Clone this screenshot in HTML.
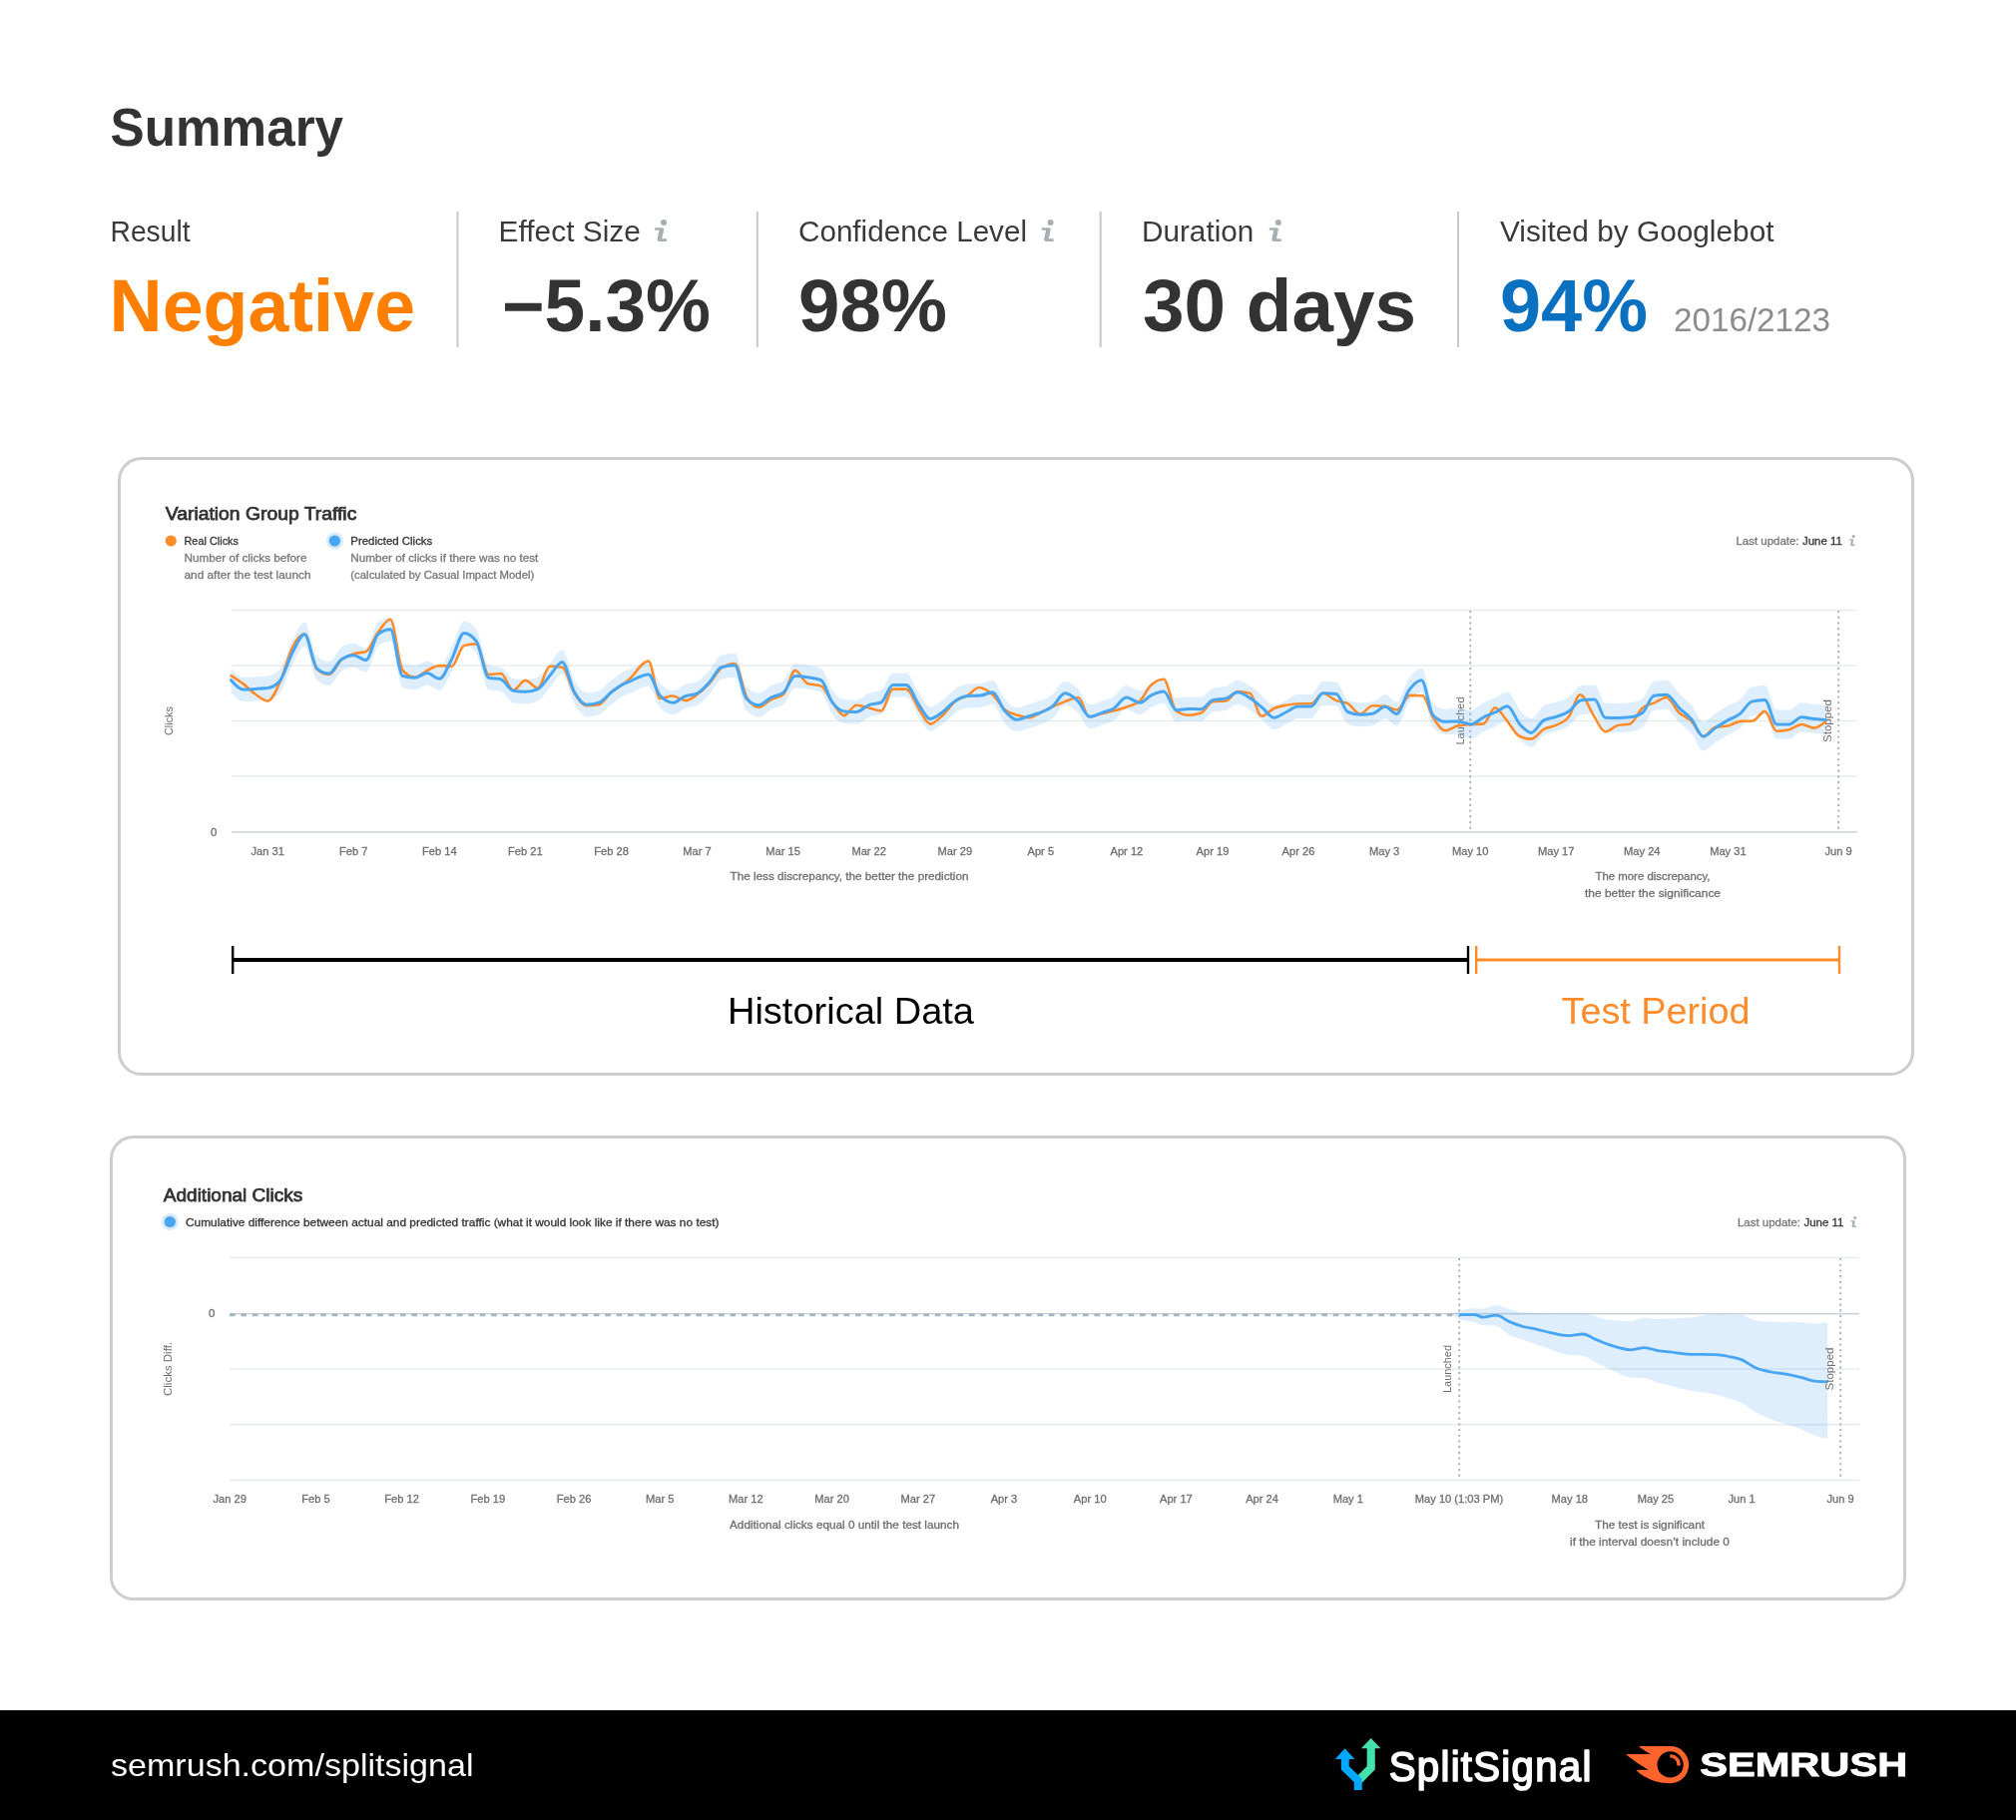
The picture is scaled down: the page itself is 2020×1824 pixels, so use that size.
<!DOCTYPE html>
<html><head><meta charset="utf-8"><title>Summary</title>
<style>html,body{margin:0;padding:0;background:#fff;}body{width:2020px;height:1824px;overflow:hidden;font-family:"Liberation Sans", sans-serif;}svg{display:block;}text{font-family:"Liberation Sans", sans-serif;}</style>
</head><body>
<svg width="2020" height="1824" viewBox="0 0 2020 1824" style="will-change:transform">
<rect width="2020" height="1824" fill="#fff"/>
<text x="110.6" y="146.4" font-size="53.3" fill="#333" font-weight="bold" text-anchor="start" textLength="233.5" lengthAdjust="spacingAndGlyphs" >Summary</text>
<text x="110.5" y="242.1" font-size="29.5" fill="#3a3a3a" font-weight="normal" text-anchor="start" textLength="80" lengthAdjust="spacingAndGlyphs" >Result</text>
<text x="109.6" y="332.3" font-size="73.6" fill="#ff8000" font-weight="bold" text-anchor="start" textLength="306.5" lengthAdjust="spacingAndGlyphs" >Negative</text>
<rect x="457.5" y="212" width="2" height="136" fill="#c8c8c8"/>
<rect x="757.8" y="212" width="2" height="136" fill="#c8c8c8"/>
<rect x="1101.7" y="212" width="2" height="136" fill="#c8c8c8"/>
<rect x="1460" y="212" width="2" height="136" fill="#c8c8c8"/>
<text x="499.6" y="242.1" font-size="29.5" fill="#3a3a3a" font-weight="normal" text-anchor="start" textLength="142.3" lengthAdjust="spacingAndGlyphs" >Effect Size</text>
<g transform="translate(662.05,232.55) scale(1.0000)" fill="#a6b0b3"><circle cx="3" cy="-9.5" r="3.05"/><path d="M-5.94,-4.32 H0.95 Q3.5,-4.32 3.04,-2.13 L1.16,6.64 H5.96 V9.35 H-1.13 Q-3.9,9.35 -3.43,7.06 L-1.55,-1.71 H-5.94 Z"/></g>
<text x="503" y="332.3" font-size="73.6" fill="#333" font-weight="bold" text-anchor="start" textLength="209" lengthAdjust="spacingAndGlyphs" >−5.3%</text>
<text x="800" y="242.1" font-size="29.5" fill="#3a3a3a" font-weight="normal" text-anchor="start" textLength="229" lengthAdjust="spacingAndGlyphs" >Confidence Level</text>
<g transform="translate(1049.6,232.55) scale(1.0000)" fill="#a6b0b3"><circle cx="3" cy="-9.5" r="3.05"/><path d="M-5.94,-4.32 H0.95 Q3.5,-4.32 3.04,-2.13 L1.16,6.64 H5.96 V9.35 H-1.13 Q-3.9,9.35 -3.43,7.06 L-1.55,-1.71 H-5.94 Z"/></g>
<text x="800" y="332.3" font-size="73.6" fill="#333" font-weight="bold" text-anchor="start" textLength="149" lengthAdjust="spacingAndGlyphs" >98%</text>
<text x="1144" y="242.1" font-size="29.5" fill="#3a3a3a" font-weight="normal" text-anchor="start" textLength="112.3" lengthAdjust="spacingAndGlyphs" >Duration</text>
<g transform="translate(1277.8,232.55) scale(1.0000)" fill="#a6b0b3"><circle cx="3" cy="-9.5" r="3.05"/><path d="M-5.94,-4.32 H0.95 Q3.5,-4.32 3.04,-2.13 L1.16,6.64 H5.96 V9.35 H-1.13 Q-3.9,9.35 -3.43,7.06 L-1.55,-1.71 H-5.94 Z"/></g>
<text x="1145" y="332.3" font-size="73.6" fill="#333" font-weight="bold" text-anchor="start" textLength="274" lengthAdjust="spacingAndGlyphs" >30 days</text>
<text x="1503" y="242.1" font-size="29.5" fill="#3a3a3a" font-weight="normal" text-anchor="start" textLength="274.5" lengthAdjust="spacingAndGlyphs" >Visited by Googlebot</text>
<text x="1503" y="332.3" font-size="73.6" fill="#0a70c0" font-weight="bold" text-anchor="start" textLength="148" lengthAdjust="spacingAndGlyphs" >94%</text>
<text x="1677" y="332.3" font-size="33" fill="#8c8c8c" font-weight="normal" text-anchor="start" textLength="157" lengthAdjust="spacingAndGlyphs" >2016/2123</text>
<rect x="119.5" y="459.5" width="1797" height="617" rx="22" ry="22" fill="#fff" stroke="#cdcdcd" stroke-width="3"/>
<text x="165.8" y="520.5" font-size="17.8" fill="#333" font-weight="normal" text-anchor="start" textLength="191.5" lengthAdjust="spacingAndGlyphs" stroke="#333" stroke-width="0.75">Variation Group Traffic</text>
<circle cx="171.2" cy="542" r="5.6" fill="#ff8c2a"/>
<text x="184.5" y="546" font-size="11.5" fill="#333" font-weight="normal" text-anchor="start" textLength="54.5" lengthAdjust="spacingAndGlyphs" stroke="#333" stroke-width="0.3">Real Clicks</text>
<text x="184.5" y="563" font-size="11.5" fill="#777" font-weight="normal" text-anchor="start" textLength="123" lengthAdjust="spacingAndGlyphs" stroke="#777" stroke-width="0.3">Number of clicks before</text>
<text x="184.5" y="580" font-size="11.5" fill="#777" font-weight="normal" text-anchor="start" textLength="127" lengthAdjust="spacingAndGlyphs" stroke="#777" stroke-width="0.3">and after the test launch</text>
<circle cx="335.4" cy="542" r="8.6" fill="#d6eafc"/><circle cx="335.4" cy="542" r="5.6" fill="#47a5f2"/>
<text x="351.3" y="546" font-size="11.5" fill="#333" font-weight="normal" text-anchor="start" textLength="82" lengthAdjust="spacingAndGlyphs" stroke="#333" stroke-width="0.3">Predicted Clicks</text>
<text x="351.3" y="563" font-size="11.5" fill="#777" font-weight="normal" text-anchor="start" textLength="188" lengthAdjust="spacingAndGlyphs" stroke="#777" stroke-width="0.3">Number of clicks if there was no test</text>
<text x="351.3" y="580" font-size="11.5" fill="#777" font-weight="normal" text-anchor="start" textLength="184" lengthAdjust="spacingAndGlyphs" stroke="#777" stroke-width="0.3">(calculated by Casual Impact Model)</text>
<text x="1739.5" y="546" font-size="11.5" fill="#777" font-weight="normal" text-anchor="start" textLength="63" lengthAdjust="spacingAndGlyphs" stroke="#777" stroke-width="0.3">Last update:</text>
<text x="1806" y="546" font-size="11.5" fill="#333" font-weight="normal" text-anchor="start" textLength="40" lengthAdjust="spacingAndGlyphs" stroke="#333" stroke-width="0.3">June 11</text>
<g transform="translate(1855.7,542.3) scale(0.4943)" fill="#a6b0b3"><circle cx="3" cy="-9.5" r="3.05"/><path d="M-5.94,-4.32 H0.95 Q3.5,-4.32 3.04,-2.13 L1.16,6.64 H5.96 V9.35 H-1.13 Q-3.9,9.35 -3.43,7.06 L-1.55,-1.71 H-5.94 Z"/></g>
<rect x="232" y="610.75" width="1629" height="1.5" fill="#e6edef"/>
<rect x="232" y="666.25" width="1629" height="1.5" fill="#e6edef"/>
<rect x="232" y="721.75" width="1629" height="1.5" fill="#e6edef"/>
<rect x="232" y="777.25" width="1629" height="1.5" fill="#e6edef"/>
<rect x="232" y="833" width="1629" height="1.6" fill="#ccd6da"/>
<line x1="1473.2" y1="612" x2="1473.2" y2="833" stroke="#a7b1b5" stroke-width="1.9" stroke-dasharray="2.1,3.6"/>
<line x1="1842.2" y1="612" x2="1842.2" y2="833" stroke="#a7b1b5" stroke-width="1.9" stroke-dasharray="2.1,3.6"/>
<text transform="translate(173.4,722.5) rotate(-90)" font-size="10.5" fill="#6e6e70" text-anchor="middle" textLength="29" lengthAdjust="spacingAndGlyphs">Clicks</text>
<text transform="translate(1466.5,722.5) rotate(-90)" font-size="11.5" fill="#6e6e70" text-anchor="middle" textLength="48" lengthAdjust="spacingAndGlyphs">Launched</text>
<text transform="translate(1835,722.5) rotate(-90)" font-size="11.5" fill="#6e6e70" text-anchor="middle" textLength="43" lengthAdjust="spacingAndGlyphs">Stopped</text>
<path d="M231.5,669.7C235.6,674.4 239.7,679.0 243.8,679.0C247.8,679.0 251.9,678.7 256.0,678.4C260.1,678.2 264.2,678.1 268.3,677.6C272.4,677.0 276.5,675.2 280.6,670.3C284.7,665.4 288.8,649.9 292.9,642.2C297.0,634.4 301.1,623.8 305.2,623.8C309.3,623.8 313.4,654.3 317.5,657.8C321.6,661.3 325.7,663.0 329.8,663.0C333.9,663.0 338.0,651.6 342.1,648.8C346.2,646.1 350.3,644.7 354.4,644.7C358.5,644.7 362.6,649.5 366.7,649.5C370.8,649.5 374.9,626.5 379.0,623.4C383.1,620.4 387.2,618.8 391.2,618.8C395.3,618.8 399.4,664.4 403.5,665.5C407.6,666.6 411.7,667.2 415.8,667.2C419.9,667.2 424.0,662.6 428.1,662.6C432.2,662.6 436.3,668.2 440.4,668.2C444.5,668.2 448.6,656.1 452.7,648.4C456.8,640.8 460.9,622.4 465.0,622.4C469.1,622.4 473.2,625.2 477.3,630.7C481.4,636.3 485.5,666.1 489.6,667.2C493.7,668.3 497.8,667.7 501.9,668.8C506.0,669.9 510.1,679.6 514.2,680.3C518.3,681.0 522.4,681.3 526.5,681.3C530.6,681.3 534.7,680.4 538.8,678.6C542.8,676.8 546.9,669.6 551.0,665.1C555.1,660.6 559.2,651.5 563.3,651.5C567.4,651.5 571.5,674.6 575.6,681.8C579.7,688.9 583.8,694.2 587.9,694.2C592.0,694.2 596.1,693.6 600.2,692.2C604.3,690.8 608.4,684.9 612.5,681.8C616.6,678.6 620.7,675.4 624.8,673.4C626.5,672.6 628.3,672.0 630.0,671.3C636.6,668.7 643.2,664.0 649.8,664.0C653.6,664.0 657.4,680.8 661.2,684.9C665.8,689.7 670.3,692.2 674.8,692.2C678.6,692.2 682.4,687.5 686.2,685.9C690.4,684.2 694.6,684.9 698.8,682.8C702.9,680.7 707.1,675.9 711.2,671.3C715.1,667.1 718.9,657.9 722.7,656.8C727.2,655.4 731.7,654.7 736.2,654.7C740.1,654.7 743.9,683.9 747.7,688.0C751.9,692.4 756.0,694.7 760.2,694.7C764.4,694.7 768.5,689.1 772.7,687.0C776.9,684.8 781.0,685.2 785.2,681.8C789.0,678.6 792.8,665.5 796.7,665.5C800.8,665.5 805.0,666.1 809.2,666.8C813.7,667.5 818.2,667.7 822.7,669.7C826.5,671.3 830.3,687.0 834.2,692.2C838.0,697.4 841.8,700.5 845.6,700.9C849.8,701.3 854.0,701.5 858.1,701.5C862.3,701.5 866.5,696.3 870.6,694.7C874.8,693.0 879.0,693.7 883.1,691.8C886.9,690.0 890.8,674.5 894.6,674.5C899.1,674.5 903.6,674.5 908.1,674.5C912.3,674.5 916.5,688.4 920.6,694.2C924.4,699.6 928.3,708.4 932.1,708.4C936.2,708.4 940.4,704.5 944.6,701.5C948.8,698.6 952.9,693.2 957.1,690.5C961.2,687.8 965.4,685.8 969.6,685.5C973.8,685.2 977.9,685.4 982.1,685.1C986.2,684.8 990.4,681.8 994.6,681.8C998.4,681.8 1002.2,694.9 1006.0,699.5C1010.2,704.4 1014.4,709.2 1018.5,709.2C1022.7,709.2 1026.9,706.9 1031.0,705.7C1034.0,704.8 1037.0,704.1 1040.0,703.0C1044.9,701.2 1049.7,699.8 1054.6,695.9C1058.8,692.6 1062.9,682.8 1067.1,682.8C1071.2,682.8 1075.4,686.2 1079.6,690.1C1083.8,694.0 1087.9,706.3 1092.1,706.3C1096.2,706.3 1100.4,703.6 1104.6,702.2C1108.4,700.8 1112.2,700.3 1116.0,698.0C1120.2,695.4 1124.4,687.0 1128.5,687.0C1133.1,687.0 1137.6,692.2 1142.1,692.2C1145.9,692.2 1149.7,686.7 1153.5,684.9C1157.7,682.9 1161.9,681.1 1166.0,681.1C1170.2,681.1 1174.4,699.5 1178.5,699.5C1182.7,699.5 1186.9,698.4 1191.0,698.4C1195.2,698.4 1199.4,698.8 1203.5,698.8C1207.4,698.8 1211.2,690.6 1215.0,689.7C1219.5,688.6 1224.0,689.1 1228.5,688.0C1232.4,687.1 1236.2,681.8 1240.0,681.8C1244.2,681.8 1248.3,685.0 1252.5,687.6C1256.7,690.2 1260.8,694.0 1265.0,697.4C1268.8,700.5 1272.6,707.2 1276.5,707.2C1280.6,707.2 1284.8,703.5 1289.0,701.5C1292.8,699.7 1296.6,695.9 1300.4,695.9C1304.9,695.9 1309.4,695.9 1314.0,695.9C1317.8,695.9 1321.6,682.8 1325.4,682.8C1329.9,682.8 1334.4,683.0 1339.0,683.4C1342.8,683.8 1346.6,699.9 1350.4,701.5C1354.6,703.3 1358.8,704.2 1362.9,704.2C1367.1,704.2 1371.2,703.9 1375.4,703.2C1379.6,702.5 1383.8,696.3 1387.9,696.3C1391.7,696.3 1395.6,703.6 1399.4,703.6C1403.5,703.6 1407.7,685.3 1411.9,679.7C1416.0,674.0 1420.2,669.7 1424.4,669.7C1428.2,669.7 1432.0,700.9 1435.8,704.7C1440.0,708.8 1444.2,710.8 1448.3,710.8C1452.4,710.8 1456.4,709.6 1460.4,709.6C1464.9,709.6 1469.4,711.9 1474.0,711.9C1478.1,711.9 1482.3,706.4 1486.5,704.2C1490.6,702.1 1494.8,701.0 1499.0,699.0C1502.8,697.3 1506.6,693.2 1510.4,693.2C1514.6,693.2 1518.8,707.0 1522.9,711.5C1526.7,715.7 1530.6,719.9 1534.4,719.9C1538.5,719.9 1542.7,709.7 1546.9,707.4C1551.0,705.0 1555.2,705.3 1559.4,703.8C1563.5,702.4 1567.7,701.4 1571.9,698.6C1576.0,695.8 1580.2,687.6 1584.4,687.2C1588.9,686.8 1593.4,686.5 1597.9,686.5C1601.4,686.5 1604.9,704.6 1608.3,704.7C1612.5,704.8 1616.7,704.9 1620.8,704.9C1625.0,704.9 1629.2,704.7 1633.3,704.2C1637.5,703.8 1641.7,702.7 1645.8,699.7C1649.7,696.9 1653.5,683.4 1657.3,682.8C1661.5,682.1 1665.6,681.8 1669.8,681.8C1674.0,681.8 1678.1,690.8 1682.3,694.9C1686.5,699.0 1690.6,701.4 1694.8,706.3C1698.8,711.1 1702.7,723.6 1706.7,723.6C1710.7,723.6 1714.7,717.8 1718.8,715.1C1722.9,712.3 1727.1,709.8 1731.2,707.4C1735.4,705.0 1739.6,704.1 1743.8,700.7C1747.6,697.6 1751.4,689.6 1755.2,688.6C1759.6,687.5 1764.0,687.0 1768.3,687.0C1772.3,687.0 1776.3,711.5 1780.2,711.5C1784.4,711.5 1788.5,711.5 1792.7,711.5C1796.9,711.5 1801.0,704.2 1805.2,704.2C1809.4,704.2 1813.5,705.5 1817.7,705.9C1821.5,706.3 1825.3,706.6 1829.2,707.0L1829.2,736.0C1825.3,735.6 1821.5,735.3 1817.7,734.9C1813.5,734.5 1809.4,733.2 1805.2,733.2C1801.0,733.2 1796.9,740.5 1792.7,740.5C1788.5,740.5 1784.4,740.5 1780.2,740.5C1776.3,740.5 1772.3,716.0 1768.3,716.0C1764.0,716.0 1759.6,716.5 1755.2,717.6C1751.4,718.6 1747.6,726.6 1743.8,729.7C1739.6,733.1 1735.4,734.0 1731.2,736.4C1727.1,738.8 1722.9,741.3 1718.8,744.1C1714.7,746.8 1710.7,752.6 1706.7,752.6C1702.7,752.6 1698.8,740.1 1694.8,735.3C1690.6,730.4 1686.5,728.0 1682.3,723.9C1678.1,719.8 1674.0,710.8 1669.8,710.8C1665.6,710.8 1661.5,711.1 1657.3,711.8C1653.5,712.4 1649.7,725.9 1645.8,728.7C1641.7,731.7 1637.5,732.8 1633.3,733.2C1629.2,733.7 1625.0,733.9 1620.8,733.9C1616.7,733.9 1612.5,733.8 1608.3,733.7C1604.9,733.6 1601.4,715.5 1597.9,715.5C1593.4,715.5 1588.9,715.8 1584.4,716.2C1580.2,716.6 1576.0,724.8 1571.9,727.6C1567.7,730.4 1563.5,731.4 1559.4,732.8C1555.2,734.3 1551.0,734.0 1546.9,736.4C1542.7,738.7 1538.5,748.9 1534.4,748.9C1530.6,748.9 1526.7,744.7 1522.9,740.5C1518.8,736.0 1514.6,722.2 1510.4,722.2C1506.6,722.2 1502.8,726.3 1499.0,728.0C1494.8,730.0 1490.6,731.2 1486.5,733.2C1482.3,735.3 1478.1,740.2 1474.0,740.2C1469.4,740.2 1464.9,736.4 1460.4,736.2C1456.4,736.0 1452.4,736.1 1448.3,735.9C1444.2,735.6 1440.0,733.5 1435.8,728.7C1432.0,724.3 1428.2,693.7 1424.4,693.7C1420.2,693.7 1416.0,698.0 1411.9,703.7C1407.7,709.3 1403.5,727.6 1399.4,727.6C1395.6,727.6 1391.7,720.3 1387.9,720.3C1383.8,720.3 1379.6,726.5 1375.4,727.2C1371.2,727.9 1367.1,728.2 1362.9,728.2C1358.8,728.2 1354.6,727.3 1350.4,725.5C1346.6,723.9 1342.8,707.8 1339.0,707.4C1334.4,707.0 1329.9,706.8 1325.4,706.8C1321.6,706.8 1317.8,719.9 1314.0,719.9C1309.4,719.9 1304.9,719.9 1300.4,719.9C1296.6,719.9 1292.8,723.7 1289.0,725.5C1284.8,727.5 1280.6,731.2 1276.5,731.2C1272.6,731.2 1268.8,724.5 1265.0,721.4C1260.8,718.0 1256.7,714.2 1252.5,711.6C1248.3,709.0 1244.2,705.8 1240.0,705.8C1236.2,705.8 1232.4,711.1 1228.5,712.0C1224.0,713.1 1219.5,712.6 1215.0,713.7C1211.2,714.6 1207.4,722.8 1203.5,722.8C1199.4,722.8 1195.2,722.4 1191.0,722.4C1186.9,722.4 1182.7,723.5 1178.5,723.5C1174.4,723.5 1170.2,705.1 1166.0,705.1C1161.9,705.1 1157.7,706.9 1153.5,708.9C1149.7,710.7 1145.9,716.2 1142.1,716.2C1137.6,716.2 1133.1,711.0 1128.5,711.0C1124.4,711.0 1120.2,719.4 1116.0,722.0C1112.2,724.3 1108.4,724.8 1104.6,726.2C1100.4,727.6 1096.2,730.3 1092.1,730.3C1087.9,730.3 1083.8,718.0 1079.6,714.1C1075.4,710.2 1071.2,706.8 1067.1,706.8C1062.9,706.8 1058.8,716.6 1054.6,719.9C1049.7,723.8 1044.9,725.2 1040.0,727.0C1037.0,728.1 1034.0,728.8 1031.0,729.7C1026.9,730.9 1022.7,733.2 1018.5,733.2C1014.4,733.2 1010.2,728.4 1006.0,723.5C1002.2,718.9 998.4,705.8 994.6,705.8C990.4,705.8 986.2,708.8 982.1,709.1C977.9,709.4 973.8,709.2 969.6,709.5C965.4,709.8 961.2,711.8 957.1,714.5C952.9,717.2 948.8,722.6 944.6,725.5C940.4,728.5 936.2,732.4 932.1,732.4C928.3,732.4 924.4,723.6 920.6,718.2C916.5,712.4 912.3,698.5 908.1,698.5C903.6,698.5 899.1,698.5 894.6,698.5C890.8,698.5 886.9,714.0 883.1,715.8C879.0,717.7 874.8,717.0 870.6,718.7C866.5,720.3 862.3,725.5 858.1,725.5C854.0,725.5 849.8,725.3 845.6,724.9C841.8,724.5 838.0,721.4 834.2,716.2C830.3,711.0 826.5,695.3 822.7,693.7C818.2,691.7 813.7,691.5 809.2,690.8C805.0,690.1 800.8,689.5 796.7,689.5C792.8,689.5 789.0,702.6 785.2,705.8C781.0,709.2 776.9,708.8 772.7,711.0C768.5,713.1 764.4,718.7 760.2,718.7C756.0,718.7 751.9,716.4 747.7,712.0C743.9,707.9 740.1,678.7 736.2,678.7C731.7,678.7 727.2,679.4 722.7,680.8C718.9,681.9 715.1,691.1 711.2,695.3C707.1,699.9 702.9,704.7 698.8,706.8C694.6,708.9 690.4,708.2 686.2,709.9C682.4,711.5 678.6,716.2 674.8,716.2C670.3,716.2 665.8,713.7 661.2,708.9C657.4,704.8 653.6,688.0 649.8,688.0C643.2,688.0 636.6,692.7 630.0,695.3C628.3,696.0 626.5,696.6 624.8,697.4C620.7,699.4 616.6,702.6 612.5,705.8C608.4,708.9 604.3,714.8 600.2,716.2C596.1,717.6 592.0,718.2 587.9,718.2C583.8,718.2 579.7,712.9 575.6,705.8C571.5,698.6 567.4,675.5 563.3,675.5C559.2,675.5 555.1,684.6 551.0,689.1C546.9,693.6 542.8,700.8 538.8,702.6C534.7,704.4 530.6,705.3 526.5,705.3C522.4,705.3 518.3,705.0 514.2,704.3C510.1,703.6 506.0,693.9 501.9,692.8C497.8,691.7 493.7,692.3 489.6,691.2C485.5,690.1 481.4,660.3 477.3,654.7C473.2,649.2 469.1,646.4 465.0,646.4C460.9,646.4 456.8,664.8 452.7,672.4C448.6,680.1 444.5,692.2 440.4,692.2C436.3,692.2 432.2,686.6 428.1,686.6C424.0,686.6 419.9,691.2 415.8,691.2C411.7,691.2 407.6,690.6 403.5,689.5C399.4,688.4 395.3,642.8 391.2,642.8C387.2,642.8 383.1,644.4 379.0,647.4C374.9,650.5 370.8,673.5 366.7,673.5C362.6,673.5 358.5,668.7 354.4,668.7C350.3,668.7 346.2,670.1 342.1,672.8C338.0,675.6 333.9,687.0 329.8,687.0C325.7,687.0 321.6,685.3 317.5,681.8C313.4,678.3 309.3,647.8 305.2,647.8C301.1,647.8 297.0,658.4 292.9,666.2C288.8,673.9 284.7,689.4 280.6,694.3C276.5,699.2 272.4,701.0 268.3,701.6C264.2,702.1 260.1,702.2 256.0,702.4C251.9,702.7 247.8,703.0 243.8,703.0C239.7,703.0 235.6,698.4 231.5,693.7Z" fill="#4aa3f0" fill-opacity="0.185"/>
<path d="M231.5,677.1C235.6,679.7 239.7,682.3 243.8,685.4C247.8,688.5 251.9,693.0 256.0,695.8C260.1,698.7 264.2,702.5 268.3,702.5C272.4,702.5 276.5,692.3 280.6,683.3C284.7,674.4 288.8,656.9 292.9,649.0C297.0,641.0 301.1,635.4 305.2,635.4C309.3,635.4 313.4,667.4 317.5,670.8C321.6,674.3 325.7,676.0 329.8,676.0C333.9,676.0 338.0,664.9 342.1,661.5C346.2,658.0 350.3,656.6 354.4,655.2C358.5,653.8 362.6,654.5 366.7,653.1C370.8,651.7 374.9,638.7 379.0,633.3C383.1,628.0 387.2,620.8 391.2,620.8C395.3,620.8 399.4,667.3 403.5,671.9C407.6,676.5 411.7,678.8 415.8,678.8C419.9,678.8 424.0,673.8 428.1,671.9C432.2,669.9 436.3,667.1 440.4,667.1C444.5,667.1 448.6,667.7 452.7,667.7C456.8,667.7 460.9,647.8 465.0,646.9C469.1,645.9 473.2,645.4 477.3,645.4C481.4,645.4 485.5,676.0 489.6,676.0C493.7,676.0 497.8,675.0 501.9,675.0C506.0,675.0 510.1,691.7 514.2,691.7C518.3,691.7 522.4,681.9 526.5,681.9C530.6,681.9 534.7,689.6 538.8,689.6C542.8,689.6 546.9,667.7 551.0,667.7C555.1,667.7 559.2,668.1 563.3,668.8C567.4,669.4 571.5,688.4 575.6,694.8C579.7,701.2 583.8,707.3 587.9,707.3C592.0,707.3 596.1,706.9 600.2,706.2C604.3,705.6 608.4,697.2 612.5,693.8C616.6,690.3 620.7,688.5 624.8,685.4C626.5,684.1 628.3,682.7 630.0,681.2C636.6,675.8 643.2,662.5 649.8,662.5C653.6,662.5 657.4,700.0 661.2,700.0C665.4,700.0 669.6,697.5 673.8,697.5C678.3,697.5 682.8,702.1 687.3,702.1C691.1,702.1 694.9,698.6 698.8,695.8C702.9,692.8 707.1,689.0 711.2,684.4C715.1,680.2 718.9,672.5 722.7,669.8C727.2,666.6 731.7,665.0 736.2,665.0C740.4,665.0 744.6,693.6 748.8,700.0C752.6,705.8 756.4,708.8 760.2,708.8C764.4,708.8 768.5,703.2 772.7,701.0C776.9,698.9 781.0,699.3 785.2,695.8C789.0,692.7 792.8,671.9 796.7,671.9C800.8,671.9 805.0,683.5 809.2,685.0C813.7,686.7 818.2,685.8 822.7,687.5C826.5,688.9 830.3,699.2 834.2,704.2C838.0,709.1 841.8,717.1 845.6,717.1C849.8,717.1 854.0,706.7 858.1,706.7C862.3,706.7 866.5,708.4 870.6,709.4C874.8,710.3 879.0,712.5 883.1,712.5C886.9,712.5 890.8,690.6 894.6,690.6C899.1,690.6 903.6,690.6 908.1,690.6C912.3,690.6 916.5,704.4 920.6,710.4C924.4,716.0 928.3,725.6 932.1,725.6C936.2,725.6 940.4,720.4 944.6,716.7C948.8,712.9 952.9,706.4 957.1,703.1C961.2,699.8 965.4,699.4 969.6,696.9C973.4,694.6 977.2,689.0 981.0,689.0C985.6,689.0 990.1,692.2 994.6,696.2C998.8,700.0 1002.9,708.1 1007.1,711.5C1011.2,714.9 1015.4,715.4 1019.6,716.7C1023.8,718.0 1027.9,719.2 1032.1,719.2C1034.7,719.2 1037.4,716.9 1040.0,715.6C1044.9,713.4 1049.7,710.5 1054.6,708.3C1058.8,706.4 1062.9,704.6 1067.1,703.1C1071.6,701.5 1076.1,699.0 1080.6,699.0C1084.1,699.0 1087.6,718.3 1091.0,718.3C1095.6,718.3 1100.1,716.1 1104.6,715.0C1108.8,714.0 1112.9,713.2 1117.1,712.1C1121.2,711.0 1125.4,709.9 1129.6,708.3C1133.8,706.7 1137.9,706.4 1142.1,702.5C1145.9,698.9 1149.7,689.9 1153.5,686.5C1157.7,682.7 1161.9,680.8 1166.0,680.8C1170.2,680.8 1174.4,709.7 1178.5,712.5C1182.7,715.3 1186.9,716.7 1191.0,716.7C1195.2,716.7 1199.4,716.0 1203.5,714.6C1207.4,713.3 1211.2,703.5 1215.0,703.1C1219.5,702.7 1224.0,702.9 1228.5,702.5C1232.4,702.1 1236.2,693.1 1240.0,693.1C1244.2,693.1 1248.3,693.7 1252.5,694.8C1256.3,695.8 1260.1,717.7 1264.0,717.7C1268.1,717.7 1272.3,711.8 1276.5,710.0C1280.6,708.2 1284.8,707.5 1289.0,706.7C1293.1,705.9 1297.3,705.2 1301.5,705.2C1305.6,705.2 1309.8,705.2 1314.0,705.2C1317.8,705.2 1321.6,694.8 1325.4,694.8C1329.9,694.8 1334.4,700.3 1339.0,702.1C1342.8,703.6 1346.6,703.1 1350.4,705.2C1354.6,707.5 1358.8,715.6 1362.9,715.6C1367.1,715.6 1371.2,707.3 1375.4,707.3C1379.6,707.3 1383.8,707.5 1387.9,707.9C1391.7,708.3 1395.6,711.5 1399.4,711.5C1403.9,711.5 1408.4,696.9 1412.9,696.9C1417.1,696.9 1421.2,697.0 1425.4,697.3C1428.9,697.5 1432.4,713.1 1435.8,718.8C1440.0,725.5 1444.2,732.3 1448.3,732.3C1452.7,732.3 1457.1,727.8 1461.5,727.1C1465.6,726.4 1469.8,726.3 1474.0,726.0C1478.1,725.8 1482.3,725.8 1486.5,725.4C1490.3,725.0 1494.1,709.4 1497.9,709.4C1502.1,709.4 1506.2,718.0 1510.4,722.9C1514.2,727.4 1518.1,735.6 1521.9,737.5C1526.0,739.6 1530.2,740.6 1534.4,740.6C1538.5,740.6 1542.7,733.2 1546.9,730.8C1551.0,728.5 1555.2,728.8 1559.4,726.7C1563.5,724.6 1567.7,723.9 1571.9,718.3C1575.7,713.3 1579.5,696.2 1583.3,696.2C1587.8,696.2 1592.4,710.4 1596.9,717.1C1600.7,722.7 1604.5,733.3 1608.3,733.3C1612.5,733.3 1616.7,728.2 1620.8,727.1C1625.0,726.0 1629.2,726.5 1633.3,725.4C1637.5,724.3 1641.7,712.8 1645.8,709.4C1649.7,706.2 1653.5,706.2 1657.3,704.6C1661.5,702.8 1665.6,699.0 1669.8,699.0C1674.0,699.0 1678.1,710.2 1682.3,714.2C1686.5,718.2 1690.6,718.8 1694.8,722.9C1698.8,726.9 1702.7,738.1 1706.7,738.1C1710.7,738.1 1714.7,729.6 1718.8,728.8C1722.9,727.9 1727.1,728.3 1731.2,727.5C1735.4,726.7 1739.6,723.2 1743.8,722.9C1747.9,722.6 1752.1,722.8 1756.2,722.5C1760.3,722.2 1764.3,712.9 1768.3,712.9C1772.3,712.9 1776.3,732.7 1780.2,732.7C1784.4,732.7 1788.5,732.2 1792.7,731.2C1796.9,730.3 1801.0,726.0 1805.2,726.0C1809.4,726.0 1813.5,729.6 1817.7,729.6C1821.5,729.6 1825.3,726.5 1829.2,723.3" fill="none" stroke="#ff8c2a" stroke-width="2.6" stroke-linejoin="round" stroke-linecap="round"/>
<path d="M231.5,681.7C235.6,686.4 239.7,691.0 243.8,691.0C247.8,691.0 251.9,690.7 256.0,690.4C260.1,690.2 264.2,690.1 268.3,689.6C272.4,689.0 276.5,687.2 280.6,682.3C284.7,677.4 288.8,661.9 292.9,654.2C297.0,646.4 301.1,635.8 305.2,635.8C309.3,635.8 313.4,666.3 317.5,669.8C321.6,673.3 325.7,675.0 329.8,675.0C333.9,675.0 338.0,663.6 342.1,660.8C346.2,658.1 350.3,656.7 354.4,656.7C358.5,656.7 362.6,661.5 366.7,661.5C370.8,661.5 374.9,638.5 379.0,635.4C383.1,632.4 387.2,630.8 391.2,630.8C395.3,630.8 399.4,676.4 403.5,677.5C407.6,678.6 411.7,679.2 415.8,679.2C419.9,679.2 424.0,674.6 428.1,674.6C432.2,674.6 436.3,680.2 440.4,680.2C444.5,680.2 448.6,668.1 452.7,660.4C456.8,652.8 460.9,634.4 465.0,634.4C469.1,634.4 473.2,637.2 477.3,642.7C481.4,648.3 485.5,678.1 489.6,679.2C493.7,680.3 497.8,679.7 501.9,680.8C506.0,681.9 510.1,691.6 514.2,692.3C518.3,693.0 522.4,693.3 526.5,693.3C530.6,693.3 534.7,692.4 538.8,690.6C542.8,688.8 546.9,681.6 551.0,677.1C555.1,672.6 559.2,663.5 563.3,663.5C567.4,663.5 571.5,686.6 575.6,693.8C579.7,700.9 583.8,706.2 587.9,706.2C592.0,706.2 596.1,705.6 600.2,704.2C604.3,702.8 608.4,696.9 612.5,693.8C616.6,690.6 620.7,687.4 624.8,685.4C626.5,684.6 628.3,684.0 630.0,683.3C636.6,680.7 643.2,676.0 649.8,676.0C653.6,676.0 657.4,692.8 661.2,696.9C665.8,701.7 670.3,704.2 674.8,704.2C678.6,704.2 682.4,699.5 686.2,697.9C690.4,696.2 694.6,696.9 698.8,694.8C702.9,692.7 707.1,687.9 711.2,683.3C715.1,679.1 718.9,669.9 722.7,668.8C727.2,667.4 731.7,666.7 736.2,666.7C740.1,666.7 743.9,695.9 747.7,700.0C751.9,704.4 756.0,706.7 760.2,706.7C764.4,706.7 768.5,701.1 772.7,699.0C776.9,696.8 781.0,697.2 785.2,693.8C789.0,690.6 792.8,677.5 796.7,677.5C800.8,677.5 805.0,678.1 809.2,678.8C813.7,679.5 818.2,679.7 822.7,681.7C826.5,683.3 830.3,699.0 834.2,704.2C838.0,709.4 841.8,712.5 845.6,712.9C849.8,713.3 854.0,713.5 858.1,713.5C862.3,713.5 866.5,708.3 870.6,706.7C874.8,705.0 879.0,705.7 883.1,703.8C886.9,702.0 890.8,686.5 894.6,686.5C899.1,686.5 903.6,686.5 908.1,686.5C912.3,686.5 916.5,700.4 920.6,706.2C924.4,711.6 928.3,720.4 932.1,720.4C936.2,720.4 940.4,716.5 944.6,713.5C948.8,710.6 952.9,705.2 957.1,702.5C961.2,699.8 965.4,697.8 969.6,697.5C973.8,697.2 977.9,697.4 982.1,697.1C986.2,696.8 990.4,693.8 994.6,693.8C998.4,693.8 1002.2,706.9 1006.0,711.5C1010.2,716.4 1014.4,721.2 1018.5,721.2C1022.7,721.2 1026.9,718.9 1031.0,717.7C1034.0,716.8 1037.0,716.1 1040.0,715.0C1044.9,713.2 1049.7,711.8 1054.6,707.9C1058.8,704.6 1062.9,694.8 1067.1,694.8C1071.2,694.8 1075.4,698.2 1079.6,702.1C1083.8,706.0 1087.9,718.3 1092.1,718.3C1096.2,718.3 1100.4,715.6 1104.6,714.2C1108.4,712.8 1112.2,712.3 1116.0,710.0C1120.2,707.4 1124.4,699.0 1128.5,699.0C1133.1,699.0 1137.6,704.2 1142.1,704.2C1145.9,704.2 1149.7,698.7 1153.5,696.9C1157.7,694.9 1161.9,693.1 1166.0,693.1C1170.2,693.1 1174.4,711.5 1178.5,711.5C1182.7,711.5 1186.9,710.4 1191.0,710.4C1195.2,710.4 1199.4,710.8 1203.5,710.8C1207.4,710.8 1211.2,702.6 1215.0,701.7C1219.5,700.6 1224.0,701.1 1228.5,700.0C1232.4,699.1 1236.2,693.8 1240.0,693.8C1244.2,693.8 1248.3,697.0 1252.5,699.6C1256.7,702.2 1260.8,706.0 1265.0,709.4C1268.8,712.5 1272.6,719.2 1276.5,719.2C1280.6,719.2 1284.8,715.5 1289.0,713.5C1292.8,711.7 1296.6,707.9 1300.4,707.9C1304.9,707.9 1309.4,707.9 1314.0,707.9C1317.8,707.9 1321.6,694.8 1325.4,694.8C1329.9,694.8 1334.4,695.0 1339.0,695.4C1342.8,695.8 1346.6,711.9 1350.4,713.5C1354.6,715.3 1358.8,716.2 1362.9,716.2C1367.1,716.2 1371.2,715.9 1375.4,715.2C1379.6,714.5 1383.8,708.3 1387.9,708.3C1391.7,708.3 1395.6,715.6 1399.4,715.6C1403.5,715.6 1407.7,697.3 1411.9,691.7C1416.0,686.0 1420.2,681.7 1424.4,681.7C1428.2,681.7 1432.0,712.6 1435.8,716.7C1440.0,721.1 1444.2,723.3 1448.3,723.3C1452.4,723.3 1456.4,722.9 1460.4,722.9C1464.9,722.9 1469.4,726.0 1474.0,726.0C1478.1,726.0 1482.3,720.8 1486.5,718.8C1490.6,716.7 1494.8,715.5 1499.0,713.5C1502.8,711.8 1506.6,707.7 1510.4,707.7C1514.6,707.7 1518.8,721.5 1522.9,726.0C1526.7,730.2 1530.6,734.4 1534.4,734.4C1538.5,734.4 1542.7,724.2 1546.9,721.9C1551.0,719.5 1555.2,719.8 1559.4,718.3C1563.5,716.9 1567.7,715.9 1571.9,713.1C1576.0,710.3 1580.2,702.1 1584.4,701.7C1588.9,701.2 1593.4,701.0 1597.9,701.0C1601.4,701.0 1604.9,719.1 1608.3,719.2C1612.5,719.3 1616.7,719.4 1620.8,719.4C1625.0,719.4 1629.2,719.2 1633.3,718.8C1637.5,718.3 1641.7,717.2 1645.8,714.2C1649.7,711.4 1653.5,697.9 1657.3,697.3C1661.5,696.6 1665.6,696.2 1669.8,696.2C1674.0,696.2 1678.1,705.3 1682.3,709.4C1686.5,713.5 1690.6,715.9 1694.8,720.8C1698.8,725.6 1702.7,738.1 1706.7,738.1C1710.7,738.1 1714.7,732.3 1718.8,729.6C1722.9,726.8 1727.1,724.3 1731.2,721.9C1735.4,719.5 1739.6,718.6 1743.8,715.2C1747.6,712.1 1751.4,704.1 1755.2,703.1C1759.6,702.0 1764.0,701.5 1768.3,701.5C1772.3,701.5 1776.3,726.0 1780.2,726.0C1784.4,726.0 1788.5,726.0 1792.7,726.0C1796.9,726.0 1801.0,718.8 1805.2,718.8C1809.4,718.8 1813.5,720.0 1817.7,720.4C1821.5,720.8 1825.3,721.1 1829.2,721.5" fill="none" stroke="#47a5f2" stroke-width="3" stroke-linejoin="round" stroke-linecap="round"/>
<text x="214.3" y="837.5" font-size="11.5" fill="#6e6e70" font-weight="normal" text-anchor="middle" stroke="#6e6e70" stroke-width="0.3">0</text>
<text x="268.2" y="856.5" font-size="11.5" fill="#6e6e70" font-weight="normal" text-anchor="middle" textLength="33.4" lengthAdjust="spacingAndGlyphs" stroke="#6e6e70" stroke-width="0.3">Jan 31</text>
<text x="354.3" y="856.5" font-size="11.5" fill="#6e6e70" font-weight="normal" text-anchor="middle" textLength="28.5" lengthAdjust="spacingAndGlyphs" stroke="#6e6e70" stroke-width="0.3">Feb 7</text>
<text x="440.3" y="856.5" font-size="11.5" fill="#6e6e70" font-weight="normal" text-anchor="middle" textLength="34.7" lengthAdjust="spacingAndGlyphs" stroke="#6e6e70" stroke-width="0.3">Feb 14</text>
<text x="526.4" y="856.5" font-size="11.5" fill="#6e6e70" font-weight="normal" text-anchor="middle" textLength="34.7" lengthAdjust="spacingAndGlyphs" stroke="#6e6e70" stroke-width="0.3">Feb 21</text>
<text x="612.5" y="856.5" font-size="11.5" fill="#6e6e70" font-weight="normal" text-anchor="middle" textLength="34.7" lengthAdjust="spacingAndGlyphs" stroke="#6e6e70" stroke-width="0.3">Feb 28</text>
<text x="698.5" y="856.5" font-size="11.5" fill="#6e6e70" font-weight="normal" text-anchor="middle" textLength="28.5" lengthAdjust="spacingAndGlyphs" stroke="#6e6e70" stroke-width="0.3">Mar 7</text>
<text x="784.6" y="856.5" font-size="11.5" fill="#6e6e70" font-weight="normal" text-anchor="middle" textLength="34.6" lengthAdjust="spacingAndGlyphs" stroke="#6e6e70" stroke-width="0.3">Mar 15</text>
<text x="870.7" y="856.5" font-size="11.5" fill="#6e6e70" font-weight="normal" text-anchor="middle" textLength="34.6" lengthAdjust="spacingAndGlyphs" stroke="#6e6e70" stroke-width="0.3">Mar 22</text>
<text x="956.8" y="856.5" font-size="11.5" fill="#6e6e70" font-weight="normal" text-anchor="middle" textLength="34.6" lengthAdjust="spacingAndGlyphs" stroke="#6e6e70" stroke-width="0.3">Mar 29</text>
<text x="1042.8" y="856.5" font-size="11.5" fill="#6e6e70" font-weight="normal" text-anchor="middle" textLength="26.6" lengthAdjust="spacingAndGlyphs" stroke="#6e6e70" stroke-width="0.3">Apr 5</text>
<text x="1128.9" y="856.5" font-size="11.5" fill="#6e6e70" font-weight="normal" text-anchor="middle" textLength="32.8" lengthAdjust="spacingAndGlyphs" stroke="#6e6e70" stroke-width="0.3">Apr 12</text>
<text x="1215.0" y="856.5" font-size="11.5" fill="#6e6e70" font-weight="normal" text-anchor="middle" textLength="32.8" lengthAdjust="spacingAndGlyphs" stroke="#6e6e70" stroke-width="0.3">Apr 19</text>
<text x="1301.0" y="856.5" font-size="11.5" fill="#6e6e70" font-weight="normal" text-anchor="middle" textLength="32.8" lengthAdjust="spacingAndGlyphs" stroke="#6e6e70" stroke-width="0.3">Apr 26</text>
<text x="1387.1" y="856.5" font-size="11.5" fill="#6e6e70" font-weight="normal" text-anchor="middle" textLength="30.3" lengthAdjust="spacingAndGlyphs" stroke="#6e6e70" stroke-width="0.3">May 3</text>
<text x="1473.2" y="856.5" font-size="11.5" fill="#6e6e70" font-weight="normal" text-anchor="middle" textLength="36.5" lengthAdjust="spacingAndGlyphs" stroke="#6e6e70" stroke-width="0.3">May 10</text>
<text x="1559.2" y="856.5" font-size="11.5" fill="#6e6e70" font-weight="normal" text-anchor="middle" textLength="36.5" lengthAdjust="spacingAndGlyphs" stroke="#6e6e70" stroke-width="0.3">May 17</text>
<text x="1645.3" y="856.5" font-size="11.5" fill="#6e6e70" font-weight="normal" text-anchor="middle" textLength="36.5" lengthAdjust="spacingAndGlyphs" stroke="#6e6e70" stroke-width="0.3">May 24</text>
<text x="1731.4" y="856.5" font-size="11.5" fill="#6e6e70" font-weight="normal" text-anchor="middle" textLength="36.5" lengthAdjust="spacingAndGlyphs" stroke="#6e6e70" stroke-width="0.3">May 31</text>
<text x="1842" y="856.5" font-size="11.5" fill="#6e6e70" font-weight="normal" text-anchor="middle" textLength="27.2" lengthAdjust="spacingAndGlyphs" stroke="#6e6e70" stroke-width="0.3">Jun 9</text>
<text x="851" y="882" font-size="11.5" fill="#6e6e70" font-weight="normal" text-anchor="middle" textLength="239" lengthAdjust="spacingAndGlyphs" stroke="#6e6e70" stroke-width="0.3">The less discrepancy, the better the prediction</text>
<text x="1656" y="882" font-size="11.5" fill="#6e6e70" font-weight="normal" text-anchor="middle" textLength="115" lengthAdjust="spacingAndGlyphs" stroke="#6e6e70" stroke-width="0.3">The more discrepancy,</text>
<text x="1656" y="899" font-size="11.5" fill="#6e6e70" font-weight="normal" text-anchor="middle" textLength="136" lengthAdjust="spacingAndGlyphs" stroke="#6e6e70" stroke-width="0.3">the better the significance</text>
<rect x="232" y="960" width="1240" height="4" fill="#000"/>
<rect x="232" y="948" width="2.4" height="28" fill="#000"/><rect x="1469.8" y="948" width="2.4" height="28" fill="#000"/>
<rect x="1478" y="960.5" width="366" height="3" fill="#ff8c2a"/>
<rect x="1478" y="948" width="2.4" height="28" fill="#ff8c2a"/><rect x="1841.8" y="948" width="2.4" height="28" fill="#ff8c2a"/>
<text x="852.5" y="1026" font-size="36.3" fill="#000" font-weight="normal" text-anchor="middle" textLength="247" lengthAdjust="spacingAndGlyphs" >Historical Data</text>
<text x="1659" y="1026" font-size="36.3" fill="#ff8c2a" font-weight="normal" text-anchor="middle" textLength="189" lengthAdjust="spacingAndGlyphs" >Test Period</text>
<rect x="111.5" y="1139.5" width="1797" height="463" rx="22" ry="22" fill="#fff" stroke="#cdcdcd" stroke-width="3"/>
<text x="163.8" y="1203.5" font-size="17.8" fill="#333" font-weight="normal" text-anchor="start" textLength="139.5" lengthAdjust="spacingAndGlyphs" stroke="#333" stroke-width="0.75">Additional Clicks</text>
<circle cx="170.3" cy="1224.5" r="8.6" fill="#d6eafc"/><circle cx="170.3" cy="1224.5" r="5.6" fill="#47a5f2"/>
<text x="186" y="1229" font-size="11.5" fill="#333" font-weight="normal" text-anchor="start" textLength="534.5" lengthAdjust="spacingAndGlyphs" stroke="#333" stroke-width="0.3">Cumulative difference between actual and predicted traffic (what it would look like if there was no test)</text>
<text x="1741" y="1229" font-size="11.5" fill="#777" font-weight="normal" text-anchor="start" textLength="63" lengthAdjust="spacingAndGlyphs" stroke="#777" stroke-width="0.3">Last update:</text>
<text x="1807.5" y="1229" font-size="11.5" fill="#333" font-weight="normal" text-anchor="start" textLength="40" lengthAdjust="spacingAndGlyphs" stroke="#333" stroke-width="0.3">June 11</text>
<g transform="translate(1857.2,1225.3) scale(0.4943)" fill="#a6b0b3"><circle cx="3" cy="-9.5" r="3.05"/><path d="M-5.94,-4.32 H0.95 Q3.5,-4.32 3.04,-2.13 L1.16,6.64 H5.96 V9.35 H-1.13 Q-3.9,9.35 -3.43,7.06 L-1.55,-1.71 H-5.94 Z"/></g>
<rect x="230" y="1259.65" width="1633" height="1.5" fill="#e6edef"/>
<rect x="230" y="1371.25" width="1633" height="1.5" fill="#e6edef"/>
<rect x="230" y="1426.95" width="1633" height="1.5" fill="#e6edef"/>
<rect x="230" y="1482.65" width="1633" height="1.5" fill="#e6edef"/>
<rect x="230" y="1315.9" width="1633" height="1.5" fill="#c6d1d6"/>
<line x1="230" y1="1317.9" x2="1456" y2="1317.9" stroke="#a3b6bb" stroke-width="2.6" stroke-dasharray="5.6,5.8"/>
<line x1="1462.2" y1="1261" x2="1462.2" y2="1483" stroke="#a7b1b5" stroke-width="1.9" stroke-dasharray="2.1,3.6"/>
<line x1="1844.2" y1="1261" x2="1844.2" y2="1483" stroke="#a7b1b5" stroke-width="1.9" stroke-dasharray="2.1,3.6"/>
<path d="M1454.9,1316.1C1457.3,1315.3 1459.7,1314.5 1462.1,1313.9C1467.3,1312.6 1472.5,1311.2 1477.7,1311.2C1480.4,1311.2 1483.0,1311.8 1485.7,1311.8C1490.2,1311.8 1494.6,1308.0 1499.1,1308.0C1503.6,1308.0 1508.0,1310.8 1512.5,1312.1C1517.0,1313.3 1521.4,1315.3 1525.9,1315.5C1537.5,1316.2 1549.1,1316.6 1560.7,1316.6C1569.2,1316.6 1577.7,1316.6 1586.2,1316.6C1594.6,1316.6 1603.1,1321.8 1611.6,1322.8C1619.2,1323.7 1626.8,1324.1 1634.4,1324.1C1638.8,1324.1 1643.3,1320.6 1647.8,1320.6C1652.2,1320.6 1656.7,1322.0 1661.2,1322.0C1671.9,1322.0 1682.6,1321.5 1693.3,1320.6C1701.8,1319.9 1710.3,1317.1 1718.8,1317.1C1727.7,1317.1 1736.6,1317.4 1745.5,1317.9C1750.0,1318.2 1754.5,1322.6 1758.9,1323.3C1764.3,1324.2 1769.6,1324.4 1775.0,1324.6C1784.8,1325.0 1794.6,1324.8 1804.5,1325.2C1808.9,1325.3 1813.4,1326.5 1817.9,1326.5C1822.3,1326.5 1826.8,1325.8 1831.2,1325.2L1831.2,1442.0C1826.8,1441.0 1822.3,1440.0 1817.9,1438.5C1813.4,1436.9 1808.9,1434.4 1804.5,1432.6C1800.0,1430.8 1795.5,1429.3 1791.1,1427.8C1785.7,1425.9 1780.4,1424.5 1775.0,1422.4C1769.6,1420.3 1764.3,1418.2 1758.9,1415.2C1754.5,1412.7 1750.0,1408.6 1745.5,1406.3C1741.1,1404.1 1736.6,1403.0 1732.1,1401.5C1727.7,1400.0 1723.2,1398.6 1718.8,1397.5C1710.3,1395.4 1701.8,1395.3 1693.3,1393.5C1686.6,1392.1 1679.9,1390.0 1673.2,1388.4C1669.2,1387.5 1665.2,1386.9 1661.2,1385.7C1656.7,1384.4 1652.2,1381.2 1647.8,1380.9C1643.3,1380.5 1638.8,1380.7 1634.4,1380.4C1626.8,1379.8 1619.2,1375.0 1611.6,1371.5C1607.1,1369.5 1602.7,1367.0 1598.2,1364.8C1594.2,1362.8 1590.2,1359.4 1586.2,1358.9C1581.2,1358.4 1576.3,1358.7 1571.4,1358.1C1565.2,1357.4 1558.9,1354.1 1552.7,1352.0C1548.2,1350.5 1543.8,1348.9 1539.3,1347.4C1534.8,1345.9 1530.4,1344.4 1525.9,1342.9C1521.4,1341.3 1517.0,1340.4 1512.5,1338.0C1508.0,1335.7 1503.6,1329.5 1499.1,1328.9C1494.6,1328.4 1490.2,1328.7 1485.7,1328.1C1483.0,1327.8 1480.4,1326.0 1477.7,1325.2C1472.5,1323.6 1467.3,1324.1 1462.1,1322.0C1459.7,1321.0 1457.3,1319.1 1454.9,1317.1Z" fill="#4aa3f0" fill-opacity="0.185"/>
<path d="M1462.1,1317.7C1467.3,1317.7 1472.5,1317.7 1477.7,1317.7C1480.4,1317.7 1483.0,1320.1 1485.7,1320.1C1490.2,1320.1 1494.6,1318.2 1499.1,1318.2C1503.6,1318.2 1508.0,1322.8 1512.5,1324.6C1517.0,1326.5 1521.4,1328.2 1525.9,1329.5C1530.4,1330.7 1534.8,1331.2 1539.3,1332.1C1543.8,1333.1 1548.2,1334.4 1552.7,1335.4C1558.9,1336.7 1565.2,1338.6 1571.4,1338.6C1576.3,1338.6 1581.2,1337.0 1586.2,1337.0C1590.2,1337.0 1594.2,1340.4 1598.2,1342.1C1602.7,1343.9 1607.1,1345.9 1611.6,1347.4C1619.2,1350.0 1626.8,1352.8 1634.4,1352.8C1638.8,1352.8 1643.3,1350.6 1647.8,1350.6C1652.2,1350.6 1656.7,1352.8 1661.2,1353.6C1665.2,1354.2 1669.2,1354.5 1673.2,1354.9C1679.9,1355.7 1686.6,1357.2 1693.3,1357.3C1701.8,1357.5 1710.3,1357.4 1718.8,1357.6C1723.2,1357.7 1727.7,1358.6 1732.1,1359.5C1736.6,1360.4 1741.1,1361.1 1745.5,1362.9C1750.0,1364.8 1754.5,1368.8 1758.9,1370.7C1764.3,1373.1 1769.6,1373.9 1775.0,1375.0C1780.4,1376.1 1785.7,1376.4 1791.1,1377.4C1795.5,1378.3 1800.0,1379.2 1804.5,1380.4C1808.9,1381.5 1813.4,1383.6 1817.9,1384.1C1822.3,1384.6 1826.8,1384.8 1831.2,1384.9" fill="none" stroke="#47a5f2" stroke-width="2.8" stroke-linejoin="round" stroke-linecap="butt"/>
<text transform="translate(172,1372) rotate(-90)" font-size="10.5" fill="#6e6e70" text-anchor="middle" textLength="54" lengthAdjust="spacingAndGlyphs">Clicks Diff.</text>
<text transform="translate(1454.2,1372) rotate(-90)" font-size="11.5" fill="#6e6e70" text-anchor="middle" textLength="48" lengthAdjust="spacingAndGlyphs">Launched</text>
<text transform="translate(1836.5,1372) rotate(-90)" font-size="11.5" fill="#6e6e70" text-anchor="middle" textLength="43" lengthAdjust="spacingAndGlyphs">Stopped</text>
<text x="212.2" y="1320" font-size="11.5" fill="#6e6e70" font-weight="normal" text-anchor="middle" stroke="#6e6e70" stroke-width="0.3">0</text>
<text x="230.2" y="1506.3" font-size="11.5" fill="#6e6e70" font-weight="normal" text-anchor="middle" textLength="33.4" lengthAdjust="spacingAndGlyphs" stroke="#6e6e70" stroke-width="0.3">Jan 29</text>
<text x="316.4" y="1506.3" font-size="11.5" fill="#6e6e70" font-weight="normal" text-anchor="middle" textLength="28.5" lengthAdjust="spacingAndGlyphs" stroke="#6e6e70" stroke-width="0.3">Feb 5</text>
<text x="402.6" y="1506.3" font-size="11.5" fill="#6e6e70" font-weight="normal" text-anchor="middle" textLength="34.7" lengthAdjust="spacingAndGlyphs" stroke="#6e6e70" stroke-width="0.3">Feb 12</text>
<text x="488.8" y="1506.3" font-size="11.5" fill="#6e6e70" font-weight="normal" text-anchor="middle" textLength="34.7" lengthAdjust="spacingAndGlyphs" stroke="#6e6e70" stroke-width="0.3">Feb 19</text>
<text x="575.0" y="1506.3" font-size="11.5" fill="#6e6e70" font-weight="normal" text-anchor="middle" textLength="34.7" lengthAdjust="spacingAndGlyphs" stroke="#6e6e70" stroke-width="0.3">Feb 26</text>
<text x="661.2" y="1506.3" font-size="11.5" fill="#6e6e70" font-weight="normal" text-anchor="middle" textLength="28.5" lengthAdjust="spacingAndGlyphs" stroke="#6e6e70" stroke-width="0.3">Mar 5</text>
<text x="747.4" y="1506.3" font-size="11.5" fill="#6e6e70" font-weight="normal" text-anchor="middle" textLength="34.6" lengthAdjust="spacingAndGlyphs" stroke="#6e6e70" stroke-width="0.3">Mar 12</text>
<text x="833.6" y="1506.3" font-size="11.5" fill="#6e6e70" font-weight="normal" text-anchor="middle" textLength="34.6" lengthAdjust="spacingAndGlyphs" stroke="#6e6e70" stroke-width="0.3">Mar 20</text>
<text x="919.8" y="1506.3" font-size="11.5" fill="#6e6e70" font-weight="normal" text-anchor="middle" textLength="34.6" lengthAdjust="spacingAndGlyphs" stroke="#6e6e70" stroke-width="0.3">Mar 27</text>
<text x="1006.0" y="1506.3" font-size="11.5" fill="#6e6e70" font-weight="normal" text-anchor="middle" textLength="26.6" lengthAdjust="spacingAndGlyphs" stroke="#6e6e70" stroke-width="0.3">Apr 3</text>
<text x="1092.2" y="1506.3" font-size="11.5" fill="#6e6e70" font-weight="normal" text-anchor="middle" textLength="32.8" lengthAdjust="spacingAndGlyphs" stroke="#6e6e70" stroke-width="0.3">Apr 10</text>
<text x="1178.4" y="1506.3" font-size="11.5" fill="#6e6e70" font-weight="normal" text-anchor="middle" textLength="32.8" lengthAdjust="spacingAndGlyphs" stroke="#6e6e70" stroke-width="0.3">Apr 17</text>
<text x="1264.6" y="1506.3" font-size="11.5" fill="#6e6e70" font-weight="normal" text-anchor="middle" textLength="32.8" lengthAdjust="spacingAndGlyphs" stroke="#6e6e70" stroke-width="0.3">Apr 24</text>
<text x="1350.8" y="1506.3" font-size="11.5" fill="#6e6e70" font-weight="normal" text-anchor="middle" textLength="30.3" lengthAdjust="spacingAndGlyphs" stroke="#6e6e70" stroke-width="0.3">May 1</text>
<text x="1462" y="1506.3" font-size="11.5" fill="#6e6e70" font-weight="normal" text-anchor="middle" textLength="88.5" lengthAdjust="spacingAndGlyphs" stroke="#6e6e70" stroke-width="0.3">May 10 (1:03 PM)</text>
<text x="1572.8" y="1506.3" font-size="11.5" fill="#6e6e70" font-weight="normal" text-anchor="middle" textLength="36.5" lengthAdjust="spacingAndGlyphs" stroke="#6e6e70" stroke-width="0.3">May 18</text>
<text x="1659" y="1506.3" font-size="11.5" fill="#6e6e70" font-weight="normal" text-anchor="middle" textLength="36.5" lengthAdjust="spacingAndGlyphs" stroke="#6e6e70" stroke-width="0.3">May 25</text>
<text x="1745" y="1506.3" font-size="11.5" fill="#6e6e70" font-weight="normal" text-anchor="middle" textLength="27.2" lengthAdjust="spacingAndGlyphs" stroke="#6e6e70" stroke-width="0.3">Jun 1</text>
<text x="1844" y="1506.3" font-size="11.5" fill="#6e6e70" font-weight="normal" text-anchor="middle" textLength="27.2" lengthAdjust="spacingAndGlyphs" stroke="#6e6e70" stroke-width="0.3">Jun 9</text>
<text x="846" y="1531.7" font-size="11.5" fill="#6e6e70" font-weight="normal" text-anchor="middle" textLength="230" lengthAdjust="spacingAndGlyphs" stroke="#6e6e70" stroke-width="0.3">Additional clicks equal 0 until the test launch</text>
<text x="1653" y="1531.7" font-size="11.5" fill="#6e6e70" font-weight="normal" text-anchor="middle" textLength="110" lengthAdjust="spacingAndGlyphs" stroke="#6e6e70" stroke-width="0.3">The test is significant</text>
<text x="1653" y="1549" font-size="11.5" fill="#6e6e70" font-weight="normal" text-anchor="middle" textLength="160" lengthAdjust="spacingAndGlyphs" stroke="#6e6e70" stroke-width="0.3">if the interval doesn’t include 0</text>
<rect x="0" y="1714" width="2020" height="110" fill="#000"/>
<text x="111" y="1779.5" font-size="31.5" fill="#fff" font-weight="normal" text-anchor="start" textLength="363.5" lengthAdjust="spacingAndGlyphs" >semrush.com/splitsignal</text>
<g><path d="M1373.7,1751 V1771.8 L1360.75,1784.8" fill="none" stroke="#45e1ab" stroke-width="8.1" stroke-linejoin="miter"/><path d="M1363.9,1752.2 L1373.65,1742 L1383.4,1752.2 Z" fill="#45e1ab"/><path d="M1347.75,1762 V1771.8 L1360.75,1784.4 V1793.9" fill="none" stroke="#00a9ff" stroke-width="7.9" stroke-linejoin="miter"/><path d="M1337.9,1762.9 L1347.55,1752.2 L1357.4,1762.9 Z" fill="#00a9ff"/></g>
<text transform="translate(1391.8,1785) scale(0.935,1)" font-size="43" fill="#fff" stroke="#fff" stroke-width="1.7" stroke-linejoin="round" letter-spacing="1.35">SplitSignal</text>
<g><path d="M1643.2,1749.9 H1673.6 A18.65,18.65 0 0 1 1673.6,1787.2 C1661,1787.2 1649.8,1783.4 1640.2,1774.9 Q1639.8,1773.7 1641.2,1773.7 H1651.6 Q1640.5,1767.5 1629.9,1759 Q1629.4,1757.9 1630.8,1757.9 H1654 Q1648.2,1754.8 1642.8,1750.9 Q1642.3,1749.9 1643.2,1749.9 Z" fill="#ff642d"/><circle cx="1673.6" cy="1768.4" r="13.1" fill="#000"/><path d="M1673.3,1759.9 A8.5,8.5 0 0 1 1682.0,1769.6" fill="none" stroke="#ff642d" stroke-width="3.4" stroke-linecap="butt"/></g>
<text x="1703.2" y="1780" font-size="33.2" fill="#fff" font-weight="bold" text-anchor="start" textLength="208" lengthAdjust="spacingAndGlyphs" stroke="#fff" stroke-width="0.9" stroke-linejoin="miter">SEMRUSH</text>
</svg></body></html>
